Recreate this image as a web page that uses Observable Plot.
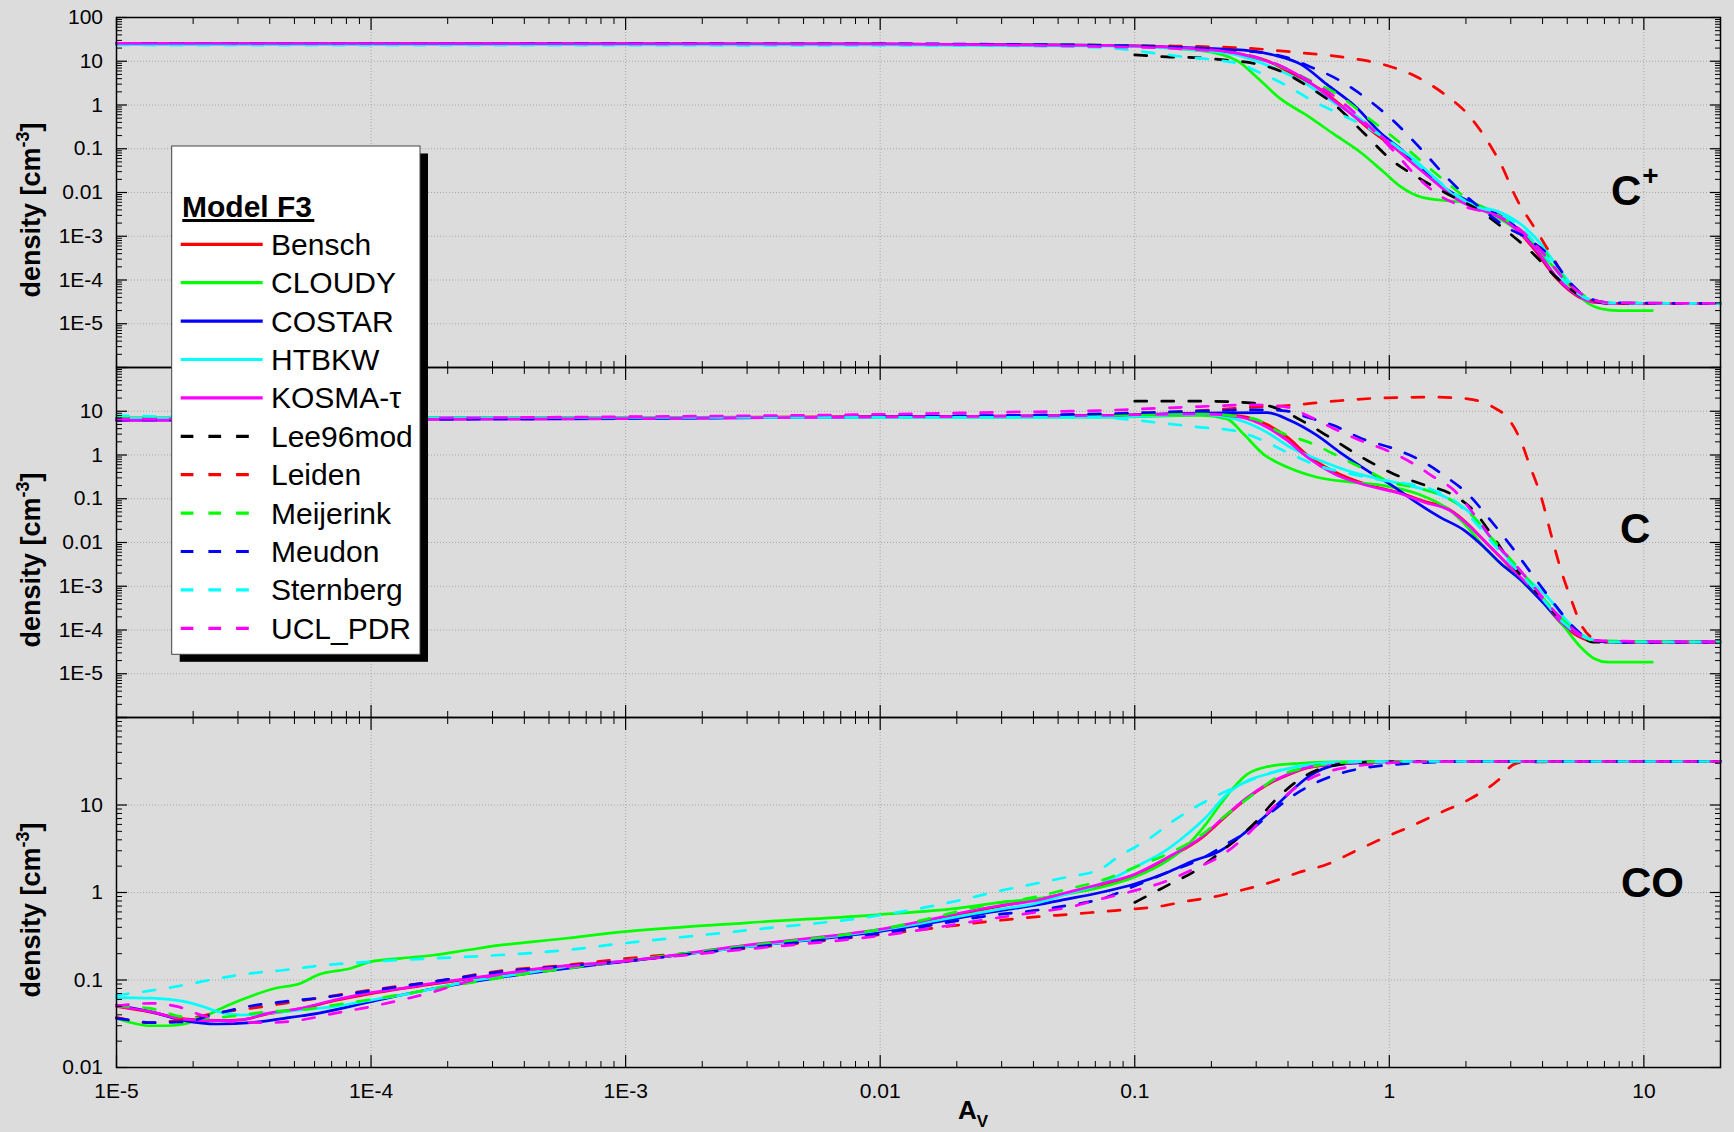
<!DOCTYPE html>
<html>
<head>
<meta charset="utf-8">
<script src="https://cdn.jsdelivr.net/npm/d3@7"></script>
<script src="https://cdn.jsdelivr.net/npm/@observablehq/plot@0.6"></script>
<style>
html, body { margin: 0; padding: 0; background: #dcdcdc; }
#chart { position: relative; width: 1734px; height: 1132px; background: #dcdcdc; overflow: hidden; font-family: "Liberation Sans", Arial, sans-serif; }
#chart > svg { position: absolute; left: 0; top: 0; }
</style>
</head>
<body>
<div id="chart"></div>
<script>
// ---------------- data ----------------
const models = ["Bensch", "CLOUDY", "COSTAR", "HTBKW", "KOSMA-τ", "Lee96mod", "Leiden", "Meijerink", "Meudon", "Sternberg", "UCL_PDR"];
const modelColors = ["#ff0000", "#00ff00", "#0000ff", "#00ffff", "#ff00ff", "#000000", "#ff0000", "#00ff00", "#0000ff", "#00ffff", "#ff00ff"];
const modelDashed = [false, false, false, false, false, true, true, true, true, true, true];

const xTicks = [1e-5, 1e-4, 1e-3, 0.01, 0.1, 1, 10];
const xTickLabels = ["1E-5", "1E-4", "1E-3", "0.01", "0.1", "1", "10"];
const yTicksWide = [1e-6, 1e-5, 1e-4, 1e-3, 0.01, 0.1, 1, 10, 100];
const yTickLabelsWide = ["", "1E-5", "1E-4", "1E-3", "0.01", "0.1", "1", "10", "100"];
const yTicksCO = [0.01, 0.1, 1, 10, 100];
const yTickLabelsCO = ["0.01", "0.1", "1", "10", ""];
const panelLabels = ["C", "C", "CO"];
const panelLabelSup = ["+", "", ""];

// C+ density vs A_V  ([A_V, n])
const densCplus = {
  "Bensch": [[1e-5,25],[0.01,24.5],[0.0733,23],[0.181,18.6],[0.26,14.5],[0.331,10.2],[0.408,5.5],[0.535,2.3],[0.686,0.74],[0.85,0.257],[1.108,0.083],[1.37,0.031],[1.68,0.011],[2.03,5.9e-3],[2.5,3.7e-3],[2.98,2e-3],[3.71,5e-4],[4.57,1.03e-4],[5.5,4.2e-5],[6.6,3.06e-5],[8,2.9e-5],[20,2.9e-5]],
  "CLOUDY": [[1e-5,25],[0.01,24.5],[0.0733,23],[0.181,17.5],[0.253,10.2],[0.303,4.2],[0.373,1.4],[0.476,0.57],[0.606,0.215],[0.77,0.083],[0.953,0.029],[1.108,0.0136],[1.33,7.9e-3],[1.68,6.5e-3],[1.97,5.9e-3],[2.43,3.5e-3],[2.9,2e-3],[3.58,7.8e-4],[4.31,2.3e-4],[5.2,6.6e-5],[5.83,3.4e-5],[6.78,2.2e-5],[7.9,2e-5],[10.8,2e-5]],
  "COSTAR": [[1e-5,25],[0.01,24.5],[0.0733,23],[0.181,19.9],[0.285,17.3],[0.362,13.3],[0.448,8.6],[0.567,3.0],[0.745,0.87],[0.92,0.235],[1.108,0.099],[1.33,0.038],[1.64,0.013],[2.03,6.5e-3],[2.5,3.8e-3],[2.98,2.1e-3],[3.71,5.5e-4],[4.57,1.1e-4],[5.5,4.4e-5],[6.6,3.06e-5],[8,2.9e-5],[20,2.9e-5]],
  "HTBKW": [[1e-5,24],[0.01,23.5],[0.0733,22.5],[0.181,17.9],[0.26,13.3],[0.348,7.2],[0.448,3.6],[0.606,1.14],[0.77,0.48],[0.98,0.152],[1.2,0.069],[1.5,0.0223],[1.8,8.4e-3],[2.2,5e-3],[2.74,3.5e-3],[3.28,1.9e-3],[3.95,6.6e-4],[4.69,1.63e-4],[5.64,4.8e-5],[6.78,3.06e-5],[8,2.9e-5],[20,2.9e-5]],
  "KOSMA-τ": [[1e-5,25.5],[0.01,25],[0.0733,23],[0.181,19],[0.245,15.8],[0.31,11.2],[0.385,7.2],[0.476,3.6],[0.606,1.25],[0.77,0.43],[0.98,0.15],[1.2,0.053],[1.5,0.018],[1.8,7.6e-3],[2.14,4.5e-3],[2.56,3.2e-3],[2.98,1.9e-3],[3.71,5.5e-4],[4.57,1.1e-4],[5.5,4.4e-5],[6.3,3.1e-5],[8,2.9e-5],[20,2.9e-5]],
  "Lee96mod": [[0.1,14],[0.134,12.6],[0.181,11.9],[0.23,10.6],[0.294,8.9],[0.373,6.0],[0.476,2.73],[0.606,1.04],[0.79,0.236],[1.01,0.058],[1.29,0.0223],[1.68,9.5e-3],[2.27,3.8e-3],[2.9,1.3e-3],[3.58,4.6e-4],[4.69,9.6e-5],[5.97,3.7e-5],[7.4,2.95e-5],[20,2.9e-5]],
  "Leiden": [[1e-5,25],[0.01,24.5],[0.0733,23.3],[0.245,20.6],[0.43,16],[0.72,11.5],[0.98,8],[1.29,4.3],[1.64,1.8],[2.03,0.62],[2.43,0.15],[2.74,0.045],[3.19,6.5e-3],[3.71,1.6e-3],[4.31,3.9e-4],[5.0,9.6e-5],[5.8,4.2e-5],[6.8,3.1e-5],[8,2.9e-5],[20,2.9e-5]],
  "Meijerink": [[1e-5,25],[0.01,24.5],[0.0733,23.3],[0.181,19],[0.285,13.3],[0.397,6.6],[0.49,3.6],[0.625,1.77],[0.82,0.52],[1.04,0.181],[1.33,0.053],[1.68,0.017],[2.08,6.5e-3],[2.56,3.5e-3],[3.19,1.58e-3],[3.95,5.5e-4],[4.87,1.1e-4],[5.83,4.4e-5],[7.2,3.06e-5],[20,2.9e-5]],
  "Meudon": [[1e-5,25.5],[0.01,25],[0.0733,23.2],[0.245,17.9],[0.397,12.2],[0.462,8.6],[0.64,3.6],[0.82,1.36],[1.04,0.43],[1.33,0.0995],[1.68,0.0223],[2.03,7.7e-3],[2.36,3.8e-3],[2.9,1.58e-3],[3.44,9.3e-4],[4.31,3.3e-4],[5.2,8e-5],[6.0,4e-5],[7.4,3e-5],[20,2.9e-5]],
  "Sternberg": [[1e-5,23.5],[0.01,23],[0.03,22.5],[0.0733,20.6],[0.115,15.8],[0.156,12.6],[0.211,10.6],[0.26,8.6],[0.31,5.5],[0.397,2.73],[0.5,1.25],[0.64,0.62],[0.82,0.306],[1.04,0.127],[1.33,0.038],[1.68,0.013],[2.14,5e-3],[2.74,3.2e-3],[3.28,1.58e-3],[4.06,3.9e-4],[5.0,8e-5],[6.0,3.7e-5],[7.4,3e-5],[20,2.9e-5]],
  "UCL_PDR": [[1e-5,25.5],[0.01,24.5],[0.0733,21.7],[0.181,18.2],[0.267,14.5],[0.348,9.4],[0.448,4.6],[0.606,1.62],[0.82,0.36],[1.04,0.089],[1.29,0.0223],[1.58,8.4e-3],[2.03,4.5e-3],[2.56,3.2e-3],[3.19,1.58e-3],[3.95,4.6e-4],[4.87,1.03e-4],[5.83,4.4e-5],[7.2,3.06e-5],[20,2.9e-5]]
};

// C density vs A_V
const densC = {
  "Bensch": [[1e-5,7],[0.001,7.2],[0.01,7.5],[0.0733,8],[0.181,8.7],[0.26,7.8],[0.331,5],[0.4,2.5],[0.476,1.0],[0.606,0.42],[0.82,0.21],[1.108,0.135],[1.37,0.088],[1.74,0.055],[2.03,0.027],[2.36,0.011],[2.74,4.5e-3],[3.28,1.5e-3],[3.95,5e-4],[4.69,1.5e-4],[5.5,7.3e-5],[6.4,5.5e-5],[8,5.3e-5],[20,5.3e-5]],
  "CLOUDY": [[1e-5,7],[0.001,7.1],[0.01,7.2],[0.0733,7.3],[0.181,8],[0.23,6.7],[0.267,3.05],[0.32,1.05],[0.397,0.53],[0.52,0.31],[0.705,0.24],[0.953,0.2],[1.29,0.13],[1.74,0.053],[2.08,0.019],[2.36,7.8e-3],[2.66,3.9e-3],[3.19,1.6e-3],[3.95,4.7e-4],[4.87,1.16e-4],[5.64,4.1e-5],[6.4,2.2e-5],[7.2,1.84e-5],[10.8,1.84e-5]],
  "COSTAR": [[1e-5,6.3],[0.001,6.8],[0.01,7.4],[0.0733,8],[0.181,9.1],[0.331,9.3],[0.408,6.15],[0.52,2.8],[0.64,1.15],[0.82,0.44],[1.04,0.19],[1.29,0.079],[1.58,0.038],[1.97,0.019],[2.36,7.8e-3],[2.74,3.3e-3],[3.28,1.4e-3],[3.95,4.7e-4],[4.69,1.6e-4],[5.5,7.9e-5],[6.4,5.7e-5],[7.7,5.3e-5],[20,5.3e-5]],
  "HTBKW": [[1e-5,7],[0.001,7.1],[0.01,7.2],[0.0733,7.3],[0.181,8.5],[0.26,6.15],[0.331,3.3],[0.408,1.5],[0.535,0.75],[0.72,0.4],[1.04,0.24],[1.33,0.17],[1.68,0.106],[2.03,0.053],[2.43,0.0159],[2.9,4.6e-3],[3.44,1.6e-3],[4.19,5.6e-4],[5.0,1.6e-4],[5.83,7.3e-5],[6.78,5.4e-5],[20,5.3e-5]],
  "KOSMA-τ": [[1e-5,6.2],[0.001,6.8],[0.01,7.4],[0.0733,8],[0.181,8.7],[0.26,7.3],[0.331,4.3],[0.397,2.15],[0.476,0.89],[0.606,0.37],[0.82,0.2],[1.108,0.13],[1.37,0.083],[1.74,0.053],[2.03,0.026],[2.36,0.011],[2.74,4.6e-3],[3.28,1.6e-3],[3.95,5.6e-4],[4.69,1.6e-4],[5.5,7.9e-5],[6.4,5.7e-5],[8,5.3e-5],[20,5.3e-5]],
  "Lee96mod": [[0.1,17],[0.181,17],[0.294,15.3],[0.35,12.4],[0.476,5.2],[0.64,1.8],[0.82,0.75],[1.04,0.37],[1.33,0.22],[1.74,0.13],[2.14,0.054],[2.56,0.0134],[3.1,2.7e-3],[3.95,5.6e-4],[4.87,1.4e-4],[5.3,1e-4],[6.3,5.3e-5],[20,5.3e-5]],
  "Leiden": [[1e-5,7],[0.001,7.3],[0.01,7.6],[0.0733,8],[0.181,10.4],[0.294,12.4],[0.397,13.5],[0.606,17],[0.953,20.2],[1.5,21],[2.03,19.2],[2.56,12.4],[2.9,7.3],[3.28,2.15],[3.58,0.53],[3.95,0.11],[4.31,0.016],[4.69,2.7e-3],[5.2,4.7e-4],[5.64,1.4e-4],[6.4,6.2e-5],[7.2,5.3e-5],[20,5.3e-5]],
  "Meijerink": [[1e-5,6.8],[0.001,7.1],[0.01,7.4],[0.0733,8],[0.181,8.7],[0.294,6.7],[0.373,3.3],[0.5,1.8],[0.66,0.82],[0.82,0.44],[1.01,0.24],[1.33,0.17],[1.68,0.106],[2.08,0.046],[2.5,0.0134],[3.1,3.3e-3],[3.71,9.5e-4],[4.57,2.3e-4],[5.5,8.6e-5],[6.4,5.7e-5],[20,5.3e-5]],
  "Meudon": [[1e-5,6.3],[0.001,6.9],[0.01,7.6],[0.0733,8.7],[0.181,10.1],[0.331,10.8],[0.397,10.1],[0.476,7.3],[0.606,4.7],[0.79,2.3],[1.04,1.4],[1.33,0.75],[1.68,0.31],[2.03,0.13],[2.5,0.032],[3.1,6.6e-3],[3.71,1.6e-3],[4.44,4e-4],[5.3,1.16e-4],[6.1,6.2e-5],[7.4,5.3e-5],[20,5.3e-5]],
  "Sternberg": [[1e-5,8],[2e-5,7.4],[0.001,7.2],[0.03,7.3],[0.0733,7.3],[0.099,6.3],[0.134,5.2],[0.181,4.3],[0.245,3.6],[0.31,2.3],[0.397,1.15],[0.52,0.58],[0.705,0.37],[0.953,0.26],[1.18,0.22],[1.5,0.155],[1.8,0.091],[2.14,0.032],[2.56,9.3e-3],[3.19,2.3e-3],[3.95,5.6e-4],[4.87,1.4e-4],[5.83,6.9e-5],[7.2,5.3e-5],[20,5.3e-5]],
  "UCL_PDR": [[1e-5,6.5],[0.001,7.5],[0.01,8.5],[0.03,9.5],[0.0733,10.4],[0.181,12.8],[0.294,14],[0.397,12.4],[0.476,8],[0.606,4],[0.77,2.15],[0.98,1.27],[1.25,0.62],[1.5,0.31],[1.8,0.155],[2.14,0.046],[2.56,0.011],[3.1,3.3e-3],[3.71,9.5e-4],[4.57,2.3e-4],[5.5,8.6e-5],[6.4,5.7e-5],[20,5.3e-5]]
};

// CO density vs A_V
const densCO = {
  "Bensch": [[1e-5,0.05],[1.36e-5,0.043],[1.85e-5,0.036],[2.5e-5,0.0345],[3.08e-5,0.035],[3.92e-5,0.041],[5.3e-5,0.047],[7.17e-5,0.058],[1e-4,0.07],[1.77e-4,0.09],[3.22e-4,0.115],[5.88e-4,0.145],[9.3e-4,0.16],[0.003,0.245],[0.01,0.375],[0.0297,0.7],[0.0542,0.98],[0.1,1.6],[0.134,2.45],[0.181,4.1],[0.23,7.6],[0.277,12],[0.331,17],[0.4,22],[0.476,26.5],[0.606,29.2],[0.82,30.9],[1.1,31.4],[20,31.4]],
  "CLOUDY": [[1e-5,0.0365],[1.17e-5,0.032],[1.36e-5,0.03],[1.59e-5,0.03],[1.85e-5,0.0314],[2.15e-5,0.0365],[2.5e-5,0.0454],[3.08e-5,0.059],[4.17e-5,0.08],[5.3e-5,0.092],[6.17e-5,0.114],[8.34e-5,0.136],[1e-4,0.162],[1.31e-4,0.177],[1.77e-4,0.193],[2.39e-4,0.22],[3.22e-4,0.25],[4.36e-4,0.274],[5.88e-4,0.30],[8.5e-4,0.341],[0.003,0.45],[0.01,0.56],[0.02,0.66],[0.0297,0.77],[0.04,0.84],[0.0542,0.96],[0.0733,1.14],[0.1,1.5],[0.134,2.3],[0.16,3.4],[0.19,6],[0.217,10.2],[0.245,15.9],[0.277,22.5],[0.331,27.4],[0.448,30],[0.606,31.1],[0.82,31.4],[10.8,31.4]],
  "COSTAR": [[1e-5,0.0518],[1.36e-5,0.0435],[1.85e-5,0.0343],[2.5e-5,0.0314],[3.37e-5,0.0325],[4.56e-5,0.0365],[6.17e-5,0.0416],[1e-4,0.0566],[1.77e-4,0.08],[3.22e-4,0.107],[5.88e-4,0.136],[9.3e-4,0.159],[0.003,0.24],[0.01,0.36],[0.0297,0.62],[0.04,0.71],[0.0542,0.84],[0.0733,1.0],[0.1,1.25],[0.134,1.69],[0.17,2.3],[0.217,3.0],[0.277,5.1],[0.331,7.8],[0.4,13.3],[0.476,20.6],[0.57,26.9],[0.72,30],[0.98,31.1],[1.3,31.4],[20,31.4]],
  "HTBKW": [[1e-5,0.063],[1.36e-5,0.062],[1.85e-5,0.0566],[2.15e-5,0.0505],[2.5e-5,0.0435],[3.08e-5,0.0398],[3.92e-5,0.0416],[5.3e-5,0.0454],[7.17e-5,0.0496],[1e-4,0.059],[1.31e-4,0.067],[1.77e-4,0.08],[2.39e-4,0.096],[3.22e-4,0.109],[4.36e-4,0.124],[5.88e-4,0.142],[9.3e-4,0.162],[0.003,0.24],[0.01,0.37],[0.0297,0.645],[0.04,0.74],[0.0542,0.96],[0.0733,1.25],[0.1,1.94],[0.134,3.1],[0.16,4.6],[0.19,7.2],[0.23,13.3],[0.277,18.9],[0.331,22.5],[0.42,26.9],[0.535,30],[0.72,31.1],[1,31.4],[20,31.4]],
  "KOSMA-τ": [[1e-5,0.0505],[1.36e-5,0.0435],[1.85e-5,0.0355],[2.5e-5,0.0343],[3.08e-5,0.0349],[3.92e-5,0.0416],[5.3e-5,0.0474],[7.17e-5,0.059],[1e-4,0.0716],[1.31e-4,0.08],[1.77e-4,0.092],[2.39e-4,0.104],[3.22e-4,0.117],[4.36e-4,0.133],[5.88e-4,0.146],[9.3e-4,0.162],[0.003,0.25],[0.01,0.38],[0.0297,0.71],[0.04,0.8],[0.0542,1.0],[0.0733,1.25],[0.1,1.62],[0.134,2.5],[0.181,4.2],[0.23,7.8],[0.277,12.2],[0.331,17.3],[0.4,22.5],[0.476,26.9],[0.606,29.3],[0.82,30.9],[1.1,31.4],[20,31.4]],
  "Lee96mod": [[0.1,0.77],[0.134,1.2],[0.173,1.77],[0.224,3.1],[0.292,6.0],[0.37,12.7],[0.473,22],[0.59,28],[0.77,30.7],[0.98,31.1],[1.3,31.4],[20,31.4]],
  "Leiden": [[1e-5,0.0375],[1.36e-5,0.0325],[1.85e-5,0.0355],[2.5e-5,0.0424],[3.37e-5,0.0474],[4.56e-5,0.0541],[6.17e-5,0.062],[1e-4,0.077],[1.77e-4,0.096],[3.22e-4,0.127],[5.88e-4,0.148],[9.3e-4,0.172],[0.003,0.23],[0.01,0.33],[0.0315,0.49],[0.042,0.53],[0.0565,0.565],[0.0755,0.607],[0.098,0.645],[0.122,0.686],[0.158,0.79],[0.204,0.89],[0.262,1.06],[0.34,1.3],[0.44,1.69],[0.57,2.1],[0.74,3.0],[0.95,4.2],[1.23,5.8],[1.59,8.2],[2.06,11.6],[2.66,18.9],[3.1,29.3],[3.5,31.1],[20,31.4]],
  "Meijerink": [[1e-5,0.0505],[1.36e-5,0.0474],[1.74e-5,0.0388],[2.15e-5,0.0365],[2.9e-5,0.0388],[3.92e-5,0.0435],[5.3e-5,0.0454],[7.17e-5,0.0518],[1e-4,0.06],[1.53e-4,0.0735],[2.39e-4,0.092],[3.77e-4,0.114],[5.88e-4,0.136],[9.3e-4,0.162],[0.003,0.245],[0.01,0.38],[0.0297,0.77],[0.04,0.88],[0.0542,1.09],[0.0733,1.36],[0.1,1.94],[0.134,2.74],[0.181,4.45],[0.23,7.8],[0.293,13.3],[0.37,21.5],[0.476,26.9],[0.606,30],[0.82,31.1],[1.1,31.4],[20,31.4]],
  "Meudon": [[1e-5,0.0365],[1.17e-5,0.0343],[1.36e-5,0.0325],[1.85e-5,0.0333],[2.5e-5,0.0416],[3.37e-5,0.0505],[4.56e-5,0.0566],[6.17e-5,0.062],[1e-4,0.0755],[1.77e-4,0.096],[3.22e-4,0.124],[5.88e-4,0.145],[9.3e-4,0.162],[0.003,0.235],[0.01,0.34],[0.0297,0.565],[0.04,0.62],[0.0542,0.71],[0.0733,0.84],[0.1,1.19],[0.134,1.69],[0.181,2.4],[0.23,3.6],[0.293,5.5],[0.363,9.4],[0.448,14.5],[0.535,18.9],[0.66,23.5],[0.82,26.9],[1.1,29.3],[1.5,30.9],[2,31.4],[20,31.4]],
  "Sternberg": [[1e-5,0.067],[1.36e-5,0.0755],[1.85e-5,0.0877],[2.5e-5,0.104],[3.37e-5,0.119],[4.56e-5,0.13],[6.17e-5,0.145],[1e-4,0.162],[1.77e-4,0.177],[3.22e-4,0.193],[5.88e-4,0.22],[9.3e-4,0.258],[0.003,0.37],[0.01,0.55],[0.02,0.8],[0.0297,1.05],[0.04,1.25],[0.0542,1.5],[0.0733,1.85],[0.0852,2.5],[0.115,4.2],[0.142,6.6],[0.181,10.2],[0.23,14.5],[0.303,20.6],[0.385,25.7],[0.521,29.3],[0.705,31.1],[1,31.4],[20,31.4]],
  "UCL_PDR": [[1e-5,0.0505],[1.36e-5,0.0541],[1.74e-5,0.0496],[2.15e-5,0.0398],[2.9e-5,0.0333],[3.92e-5,0.0325],[5.3e-5,0.0349],[7.17e-5,0.0416],[1e-4,0.0496],[1.31e-4,0.059],[1.77e-4,0.0735],[2.39e-4,0.096],[3.77e-4,0.124],[5.88e-4,0.142],[9.3e-4,0.162],[0.003,0.225],[0.01,0.32],[0.0297,0.52],[0.04,0.59],[0.0542,0.67],[0.0733,0.84],[0.1,1.05],[0.134,1.36],[0.17,1.85],[0.217,2.6],[0.277,4.6],[0.35,9.4],[0.448,17.3],[0.535,22.5],[0.68,26.9],[0.87,29.3],[1.29,31.1],[2,31.4],[20,31.4]]
};

// ---------------- layout ----------------
const W = 1734, H = 1132;
const plotLeft = 116, plotRight = 1720;
const panels = [
  {series: densCplus, top: 17, bottom: 367, yDomain: [1e-6, 100], yTicks: yTicksWide, yLabels: yTickLabelsWide, showX: false},
  {series: densC, top: 367, bottom: 717, yDomain: [1e-6, 100], yTicks: yTicksWide, yLabels: yTickLabelsWide.map(s => s === "100" ? "" : s), showX: false},
  {series: densCO, top: 717, bottom: 1067, yDomain: [0.01, 100], yTicks: yTicksCO, yLabels: yTickLabelsCO, showX: true}
];

function minorTicks(lo, hi) {
  const out = [];
  for (let k = Math.floor(Math.log10(lo)); k <= Math.ceil(Math.log10(hi)); k++) {
    for (let m = 2; m <= 9; m++) {
      const v = m * Math.pow(10, k);
      if (v > lo * 1.0001 && v < hi * 0.9999) out.push(v);
    }
  }
  return out;
}
const xMinor = minorTicks(1e-5, 20);
const gridColor = "#a8a8a8";
const blank = () => "";

function buildPanel(p) {
  const yMinor = minorTicks(p.yDomain[0], p.yDomain[1]);
  const gridY = p.yTicks.filter(v => v > p.yDomain[0] && v < p.yDomain[1]);
  const gridX = xTicks.filter(v => v > 1e-5);
  const marks = [
    Plot.gridX({ticks: gridX, stroke: gridColor, strokeOpacity: 1, strokeWidth: 1, strokeDasharray: "1,2"}),
    Plot.gridY({ticks: gridY, stroke: gridColor, strokeOpacity: 1, strokeWidth: 1, strokeDasharray: "1,2"})
  ];
  models.forEach((name, i) => {
    const pts = p.series[name];
    if (!pts) return;
    marks.push(Plot.line(pts, {
      x: d => d[0], y: d => d[1],
      stroke: modelColors[i], strokeWidth: 2.7,
      strokeDasharray: modelDashed[i] ? "12,15" : undefined,
      curve: "monotone-x"
    }));
  });
  marks.push(Plot.frame({stroke: "#000", strokeWidth: 1.5}));
  for (const anchor of ["top", "bottom"]) {
    marks.push(Plot.axisX({anchor, ticks: xTicks, tickSize: -12, tickFormat: blank, label: null, strokeWidth: 1.2}));
    marks.push(Plot.axisX({anchor, ticks: xMinor, tickSize: -6, tickFormat: blank, label: null, strokeWidth: 1}));
  }
  for (const anchor of ["left", "right"]) {
    marks.push(Plot.axisY({anchor, ticks: p.yTicks, tickSize: -11, tickFormat: blank, label: null, strokeWidth: 1.2}));
    marks.push(Plot.axisY({anchor, ticks: yMinor, tickSize: -6, tickFormat: blank, label: null, strokeWidth: 1}));
  }
  marks.push(Plot.axisY({anchor: "left", ticks: p.yTicks, tickSize: 0, tickPadding: 13.5, label: null,
    tickFormat: v => p.yLabels[p.yTicks.indexOf(v)], fontSize: 21}));
  if (p.showX) {
    marks.push(Plot.axisX({anchor: "bottom", ticks: xTicks, tickSize: 0, tickPadding: 16, label: null,
      tickFormat: v => xTickLabels[xTicks.indexOf(v)], fontSize: 21}));
  }
  return Plot.plot({
    width: W, height: H,
    marginLeft: plotLeft, marginRight: W - plotRight,
    marginTop: p.top, marginBottom: H - p.bottom,
    x: {type: "log", domain: [1e-5, 20]},
    y: {type: "log", domain: p.yDomain},
    style: {background: "transparent", fontFamily: "'Liberation Sans', Arial, sans-serif", fontSize: "21px", color: "#000", overflow: "visible"},
    marks
  });
}

const chart = document.getElementById("chart");
panels.forEach(p => chart.appendChild(buildPanel(p)));

// ---------------- annotations & legend ----------------
const ov = d3.create("svg").attr("width", W).attr("height", H)
  .style("font-family", "'Liberation Sans', Arial, sans-serif");

panels.forEach((p, i) => {
  const cy = (p.top + p.bottom) / 2 + 18;
  const t = ov.append("text")
    .attr("transform", `translate(39.5,${cy}) rotate(-90)`)
    .attr("text-anchor", "middle").attr("font-weight", "bold").attr("font-size", 27).attr("fill", "#000");
  t.append("tspan").text("density [cm");
  t.append("tspan").attr("font-size", 18).attr("dy", -11).text("-3");
  t.append("tspan").attr("dy", 11).text("]");

  const lab = ov.append("text").attr("font-weight", "bold").attr("font-size", 42).attr("fill", "#000");
  const lx = [1611, 1620, 1621][i];
  const ly = [205, 543, 897][i];
  lab.attr("x", lx).attr("y", ly);
  lab.append("tspan").text(panelLabels[i]);
  if (panelLabelSup[i]) lab.append("tspan").attr("font-size", 28).attr("dy", -20).attr("dx", 1).text(panelLabelSup[i]);
});

// x axis title A_V
const at = ov.append("text").attr("x", 958).attr("y", 1119).attr("font-weight", "bold").attr("font-size", 26).attr("fill", "#000");
at.append("tspan").text("A");
at.append("tspan").attr("font-size", 17).attr("dy", 8).text("V");

// legend box
const lg = {x: 171.7, y: 146, w: 248.3, h: 508.3};
ov.append("rect").attr("x", lg.x + 8).attr("y", lg.y + 7.5).attr("width", lg.w).attr("height", lg.h).attr("fill", "#000");
ov.append("rect").attr("x", lg.x).attr("y", lg.y).attr("width", lg.w).attr("height", lg.h).attr("fill", "#fff").attr("stroke", "#444").attr("stroke-width", 1);
ov.append("text").attr("x", 182).attr("y", 216.7).attr("font-weight", "bold").attr("font-size", 30).attr("fill", "#000").text("Model F3");
ov.append("rect").attr("x", 182.3).attr("y", 219).attr("width", 132).attr("height", 3).attr("fill", "#000");
models.forEach((name, i) => {
  const yy = 244.3 + i * 38.4;
  ov.append("line")
    .attr("x1", 180.7).attr("x2", modelDashed[i] ? 250.7 : 262.7)
    .attr("y1", yy).attr("y2", yy)
    .attr("stroke", modelColors[i]).attr("stroke-width", 3.2)
    .attr("stroke-dasharray", modelDashed[i] ? "12.7,15" : null);
  ov.append("text").attr("x", 271).attr("y", yy + 10.5).attr("font-size", 30).attr("fill", "#000").text(name);
});

chart.appendChild(ov.node());
</script>
</body>
</html>
